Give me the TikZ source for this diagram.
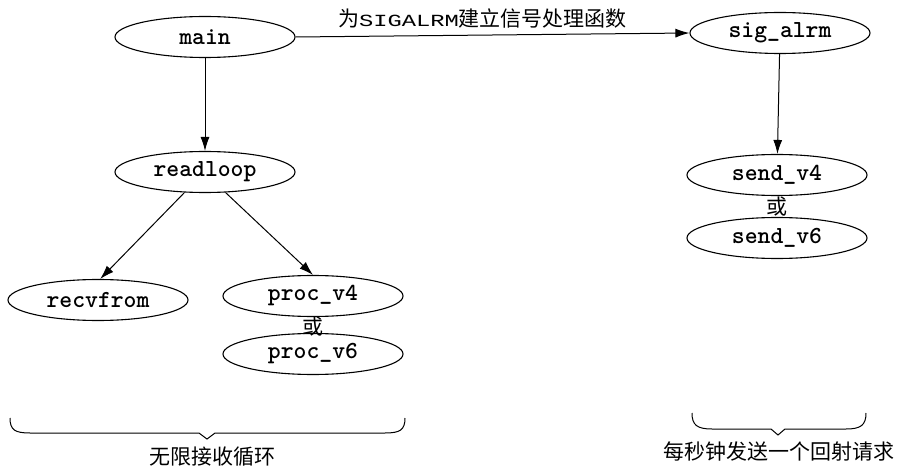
\documentclass[tikz,border=0pt]{standalone}
\usepackage{fontspec}
\usepackage{graphicx}
\usetikzlibrary{shapes.geometric,arrows.meta}
\newfontfamily\cjk{Noto Sans CJK SC}
\newfontfamily\sigfont{Liberation Mono}
\newcommand\codefnt{\fontsize{24.5}{28}\ttfamily\bfseries}
\tikzset{
  fn/.style={ellipse, draw, line width=1.1pt, minimum width=180pt, minimum height=41pt, inner sep=0pt,
    font=\codefnt},
  conn/.style={line width=1pt, -{Latex[length=14pt,width=9pt]}},
  cjktext/.style={font=\cjk\fontsize{21}{24}\selectfont, inner sep=0pt},
  bracepath/.style={line width=1pt}
}
\begin{document}
\begin{tikzpicture}[x=1pt,y=-1pt]
\useasboundingbox (0,0) rectangle (903,468);
\node[fn] (main) at (205,37) {main};
\node[fn] (sig) at (780,33) {sig\_alrm};
\node[fn] (readloop) at (205,172) {readloop};
\node[fn] (recv) at (98,300) {recvfrom};
\node[fn] (p4) at (313,296) {proc\_v4};
\node[cjktext] (or1) at (313,327) {或};
\node[fn] (p6) at (313,354) {proc\_v6};
\node[fn] (s4) at (777,175) {send\_v4};
\node[cjktext] (or2) at (777,207) {或};
\node[fn] (s6) at (777,238) {send\_v6};

\draw[conn] (main.east) -- node[above=6pt, xshift=-10pt, cjktext] (lab) {为\scalebox{1.4}[1]{\sigfont\fontsize{17}{19}\selectfont SIGALRM}建立信号处理函数} (sig.west);
\draw[conn] (main) -- (readloop);
\draw[conn] (readloop.225) -- (recv.84);
\draw[conn] (readloop.315) -- (p4.90);
\draw[conn] (sig) -- (s4);

\coordinate (lb1) at (10,418);
\coordinate (lbt) at (207,439);
\coordinate (lb2) at (405,418);
\draw[bracepath] (lb1) .. controls (10,430) and (15,433) .. (30,433) -- (199,433) -- (lbt) -- (215,433) -- (385,433) .. controls (400,433) and (405,430) .. (lb2);
\node[cjktext] (loop) at (212,457) {无限接收循环};

\coordinate (rb1) at (692,413);
\coordinate (rbt) at (778,435);
\coordinate (rb2) at (866,413);
\draw[bracepath] (rb1) .. controls (692,425) and (697,429) .. (712,429) -- (771,429) -- (rbt) -- (785,429) -- (846,429) .. controls (861,429) and (866,425) .. (rb2);
\node[cjktext] (every) at (779,451) {每秒钟发送一个回射请求};
\end{tikzpicture}
\end{document}
